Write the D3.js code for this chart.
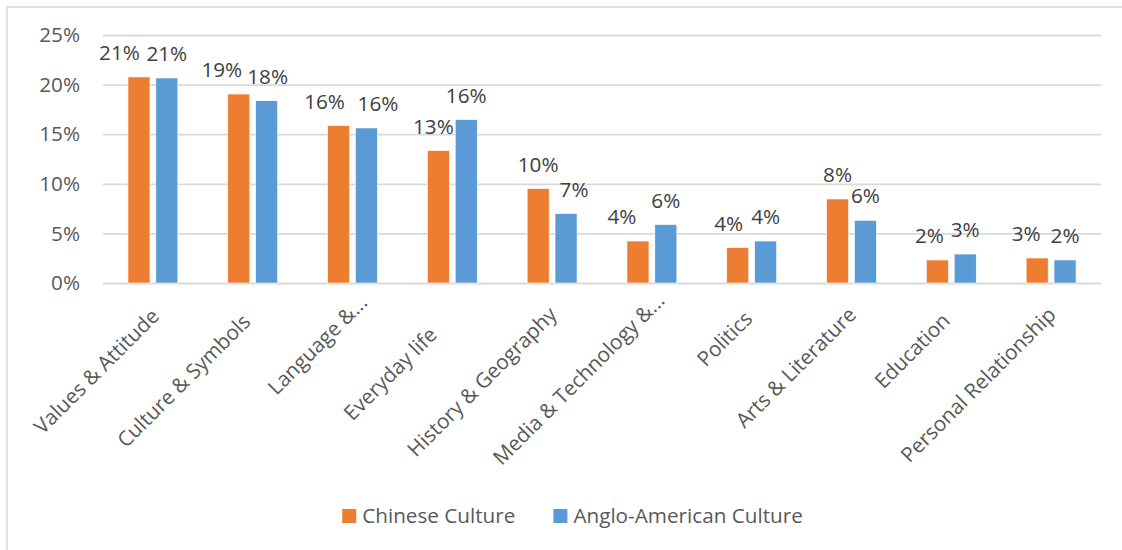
<!DOCTYPE html>
<html>
<head>
<meta charset="utf-8">
<script src="https://cdn.jsdelivr.net/npm/d3@7"></script>
<style>
  html, body { margin: 0; padding: 0; background: #fff; }
  svg { display: block; font-family: "Open Sans", "Noto Sans", sans-serif; }
</style>
</head>
<body>
<svg id="chart" width="1122" height="550"></svg>
<script>
// Share of cultural content topics, by culture
const categories = [
  "Values & Attitude", "Culture & Symbols", "Language &...", "Everyday life",
  "History & Geography", "Media & Technology &...", "Politics",
  "Arts & Literature", "Education", "Personal Relationship"
];
const seriesNames = ["Chinese Culture", "Anglo-American Culture"];
const chineseCulture = [0.2077, 0.1905, 0.1587, 0.1335, 0.0952, 0.0423, 0.0357, 0.0847, 0.0232, 0.0252];
const angloAmericanCulture = [0.2067, 0.1838, 0.1563, 0.1647, 0.0700, 0.0589, 0.0423, 0.0632, 0.0292, 0.0232];
const yTickValues = [0, 0.05, 0.10, 0.15, 0.20, 0.25];

// Layout: horizontal nudges for value labels that would otherwise collide,
// and slides along / across the diagonal for the rotated category labels.
const chineseLabelDx = [-19.5, -17, -14, -5, 0, -16, -9, 0, -8, -11];
const angloLabelDx = [0, 1, 11.5, 0, 8, 0, 0, 0, 0, 0];
const categorySlide = [0, -7, 11, -20, 0, 11, -4, 0, -6, 0];
const categoryLift = [-1.5, 0, 1, 0, 0, 3, 0, 0, 0, 0];

const colors = ["#ED7D31", "#5B9BD5"];
const series = [chineseCulture, angloAmericanCulture];
const labelDx = [chineseLabelDx, angloLabelDx];
const fontSize = 20.7;

const svg = d3.select("#chart");
const plot = { left: 103, right: 1101, top: 35, bottom: 283 };

// chart frame
svg.append("rect")
  .attr("x", 7).attr("y", 7)
  .attr("width", 1140).attr("height", 580)
  .attr("fill", "#fff")
  .attr("stroke", "#D9D9D9").attr("stroke-width", 1.5);

const x0 = d3.scaleBand().domain(categories).range([plot.left, plot.right]);
const x1 = d3.scaleBand().domain(seriesNames)
  .range([x0.bandwidth() * 0.25, x0.bandwidth() * 0.75])
  .paddingInner(0.21);
const y = d3.scaleLinear().domain([0, 0.25]).range([plot.bottom, plot.top]);

// y axis with gridlines
const yAxis = svg.append("g")
  .attr("transform", `translate(${plot.left},0)`)
  .call(d3.axisLeft(y).tickValues(yTickValues).tickFormat(d3.format(".0%"))
    .tickSize(-(plot.right - plot.left)).tickPadding(23));
yAxis.select(".domain").remove();
yAxis.selectAll(".tick line").attr("stroke", "#D9D9D9").attr("stroke-width", 1.8);
yAxis.selectAll(".tick text")
  .attr("fill", "#595959").attr("font-size", fontSize)
  .attr("font-family", "'Open Sans', sans-serif");

// bars
const groups = svg.append("g").selectAll("g")
  .data(categories)
  .join("g")
  .attr("transform", d => `translate(${x0(d)},0)`);

groups.each(function (cat, i) {
  const g = d3.select(this);
  seriesNames.forEach((name, s) => {
    const v = series[s][i];
    g.append("rect")
      .attr("x", x1(name))
      .attr("y", y(v))
      .attr("width", x1.bandwidth())
      .attr("height", y(0) - y(v))
      .attr("fill", colors[s])
      .attr("stroke", "#fff").attr("stroke-width", 0.6);
    g.append("text")
      .attr("x", x1(name) + x1.bandwidth() / 2 + labelDx[s][i])
      .attr("y", y(v) - 17)
      .attr("text-anchor", "middle")
      .attr("fill", "#404040")
      .attr("font-size", fontSize)
      .text(d3.format(".0%")(v));
  });
});

// category axis with rotated labels
const xAxis = svg.append("g")
  .attr("transform", `translate(0,${plot.bottom})`)
  .call(d3.axisBottom(x0).tickSize(0));
xAxis.select(".domain").remove();
xAxis.selectAll(".tick text")
  .attr("x", null).attr("y", null).attr("dy", null)
  .attr("text-anchor", "end")
  .attr("fill", "#595959").attr("font-size", fontSize)
  .attr("font-family", "'Open Sans', sans-serif")
  .attr("transform", (d, i) => {
    const tx = 6 + categorySlide[i] - categoryLift[i];
    const ty = 33 - categorySlide[i] - categoryLift[i];
    return `translate(${tx},${ty}) rotate(-45)`;
  });

// legend
const legend = svg.append("g");
const legendItems = legend.selectAll("g")
  .data(seriesNames)
  .join("g");
legendItems.append("rect")
  .attr("width", 14).attr("height", 14)
  .attr("y", -14)
  .attr("fill", (d, i) => colors[i]);
legendItems.append("text")
  .attr("x", 20)
  .attr("y", 0)
  .attr("fill", "#595959").attr("font-size", fontSize)
  .text(d => d);
let offset = 0;
const itemWidths = [];
legendItems.each(function () {
  const w = 20 + d3.select(this).select("text").node().getComputedTextLength();
  itemWidths.push(w);
});
const legendGap = 38;
const totalWidth = d3.sum(itemWidths) + legendGap * (itemWidths.length - 1);
const legendStart = 572.5 - totalWidth / 2;
legendItems.attr("transform", (d, i) => {
  const tx = legendStart + offset;
  offset += itemWidths[i] + legendGap;
  return `translate(${tx},523)`;
});
</script>
</body>
</html>
